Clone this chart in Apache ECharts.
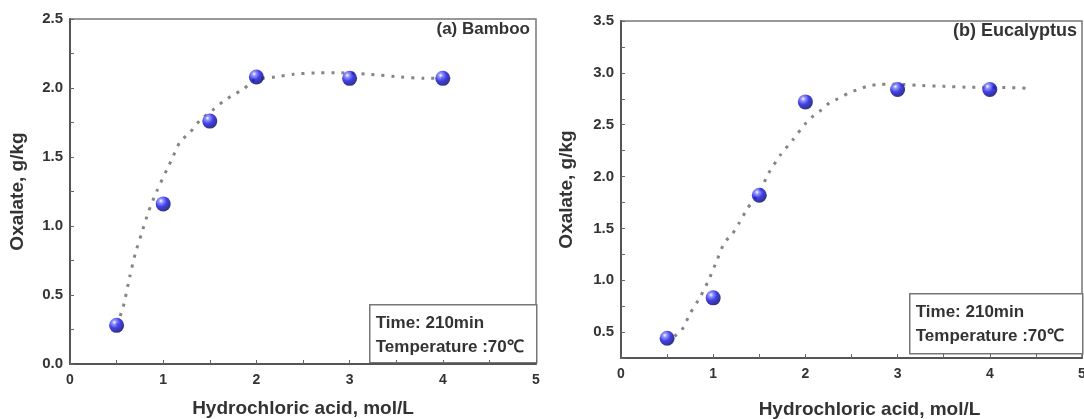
<!DOCTYPE html>
<html>
<head>
<meta charset="utf-8">
<script src="https://cdn.jsdelivr.net/npm/echarts@6/dist/echarts.min.js"></script>
<style>
  html, body { margin: 0; padding: 0; background: #fff; }
  #chart { width: 1084px; height: 419px; }
</style>
</head>
<body>
<div id="chart"></div>
<script>
// measured points, HCl concentration (mol/L)
const acidConc = [0.5, 1, 1.5, 2, 3, 4];
const bambooOxalate = [0.28, 1.16, 1.76, 2.08, 2.07, 2.07];
const eucalyptusOxalate = [0.44, 0.83, 1.82, 2.72, 2.84, 2.84];

// dotted guide curves
const bambooFitX = [0.5, 0.57, 0.64, 0.7, 0.77, 0.84, 0.93, 1.04, 1.09, 1.18, 1.29, 1.4, 1.53, 1.64, 1.75, 1.86, 1.98, 2.2, 2.4, 2.66, 2.9, 3.2, 3.55, 3.8, 4.0];
const bambooFitY = [0.28, 0.41, 0.63, 0.8, 0.95, 1.1, 1.25, 1.41, 1.48, 1.61, 1.68, 1.77, 1.84, 1.9, 1.95, 1.99, 2.06, 2.08, 2.1, 2.11, 2.11, 2.1, 2.08, 2.07, 2.07];
const eucaFitX = [0.58, 0.66, 0.75, 0.86, 0.95, 1.04, 1.12, 1.21, 1.28, 1.37, 1.5, 1.6, 1.73, 1.86, 2.0, 2.08, 2.17, 2.26, 2.35, 2.46, 2.57, 2.67, 2.82, 3.0, 3.2, 3.5, 3.8, 4.1, 4.45];
const eucaFitY = [0.46, 0.52, 0.68, 0.84, 1.0, 1.19, 1.36, 1.45, 1.55, 1.69, 1.85, 2.03, 2.21, 2.35, 2.51, 2.58, 2.64, 2.71, 2.75, 2.8, 2.84, 2.87, 2.89, 2.89, 2.88, 2.87, 2.86, 2.86, 2.85];

const panelLabels = ["(a) Bamboo", "(b) Eucalyptus"];
const noteLines = ["Time: 210min", "Temperature :70\u2103"];

const FONT = "'Liberation Sans', Arial, sans-serif";

function zip(xs, ys) {
  let out = [];
  for (let i in xs) out.push([xs[i], ys[i]]);
  return out;
}

const sphere = new echarts.graphic.RadialGradient(0.35, 0.3, 0.7, [
  { offset: 0, color: "#ffffff" },
  { offset: 0.2, color: "#7a7aff" },
  { offset: 0.55, color: "#1010e0" },
  { offset: 1, color: "#00006a" }
]);

function xAxisOf(idx, gap, margin, pad) {
  return {
    gridIndex: idx,
    type: "value",
    min: 0,
    max: 5,
    interval: 0.5,
    name: "Hydrochloric acid, mol/L",
    nameLocation: "middle",
    nameGap: gap,
    nameTextStyle: { fontFamily: FONT, fontWeight: "bold", fontSize: 19, color: "#333", padding: pad },
    axisLine: { lineStyle: { color: "#555", width: 2 } },
    axisTick: { inside: true, length: 4, lineStyle: { color: "#666" } },
    splitLine: { show: false },
    axisLabel: {
      margin: margin,
      fontFamily: FONT, fontWeight: "bold", fontSize: 14, color: "#333",
      formatter: v => (Math.abs(v - Math.round(v)) < 1e-6 ? String(Math.round(v)) : "")
    }
  };
}

function yAxisOf(idx, min, max, gap) {
  return {
    gridIndex: idx,
    type: "value",
    min: min,
    max: max,
    interval: 0.25,
    name: "Oxalate, g/kg",
    nameLocation: "middle",
    nameGap: gap,
    nameTextStyle: { fontFamily: FONT, fontWeight: "bold", fontSize: 19, color: "#333" },
    axisLine: { lineStyle: { color: "#555", width: 2 } },
    axisTick: { inside: true, length: 4, lineStyle: { color: "#666" } },
    splitLine: { show: false },
    axisLabel: {
      margin: 7,
      fontFamily: FONT, fontWeight: "bold", fontSize: 15, color: "#333",
      formatter: v => (Math.abs(v * 2 - Math.round(v * 2)) < 1e-6 ? v.toFixed(1) : "")
    }
  };
}

function fitSeries(idx, xs, ys) {
  return {
    type: "line",
    xAxisIndex: idx,
    yAxisIndex: idx,
    data: zip(xs, ys),
    smooth: 0.2,
    symbol: "none",
    lineStyle: { color: "#858585", width: 3, type: [3, 7] },
    z: 2,
    animation: false
  };
}

function pointSeries(idx, ys) {
  return {
    type: "scatter",
    xAxisIndex: idx,
    yAxisIndex: idx,
    data: zip(acidConc, ys),
    symbolSize: 15,
    itemStyle: { color: sphere },
    z: 3,
    animation: false
  };
}

function noteBox(x, y, w, h) {
  return {
    type: "group",
    left: x,
    top: y,
    children: [
      { type: "rect", shape: { x: 0, y: 0, width: w, height: h }, style: { fill: "#fff", stroke: "#777", lineWidth: 1.5 } },
      { type: "text", x: 6, y: 19, style: { text: noteLines[0], font: "bold 17px " + FONT, fill: "#333", verticalAlign: "middle" } },
      { type: "text", x: 6, y: 43, style: { text: noteLines[1], font: "bold 17px " + FONT, fill: "#333", verticalAlign: "middle" } }
    ]
  };
}

const chart = echarts.init(document.getElementById("chart"));
chart.setOption({
  backgroundColor: "#fff",
  animation: false,
  grid: [
    { left: 70, top: 19, width: 466, height: 345, show: true, borderColor: "#777", borderWidth: 1.5, containLabel: false, outerBoundsMode: "none" },
    { left: 621, top: 21, width: 461, height: 337, show: true, borderColor: "#777", borderWidth: 1.5, containLabel: false, outerBoundsMode: "none" }
  ],
  xAxis: [xAxisOf(0, 35, 9, [0, 0, 0, 0]), xAxisOf(1, 42, 9, [0, 0, 0, 36])],
  yAxis: [yAxisOf(0, 0, 2.5, 43), yAxisOf(1, 0.25, 3.5, 45)],
  series: [
    fitSeries(0, bambooFitX, bambooFitY),
    pointSeries(0, bambooOxalate),
    fitSeries(1, eucaFitX, eucaFitY),
    pointSeries(1, eucalyptusOxalate)
  ],
  graphic: [
    { type: "text", right: 1084 - 530, top: 21, style: { text: panelLabels[0], font: "bold 17px " + FONT, fill: "#333" } },
    { type: "text", right: 7, top: 22, style: { text: panelLabels[1], font: "bold 18px " + FONT, fill: "#333" } },
    noteBox(369, 304, 167, 58),
    noteBox(909, 293, 173, 60)
  ]
});
</script>
</body>
</html>
